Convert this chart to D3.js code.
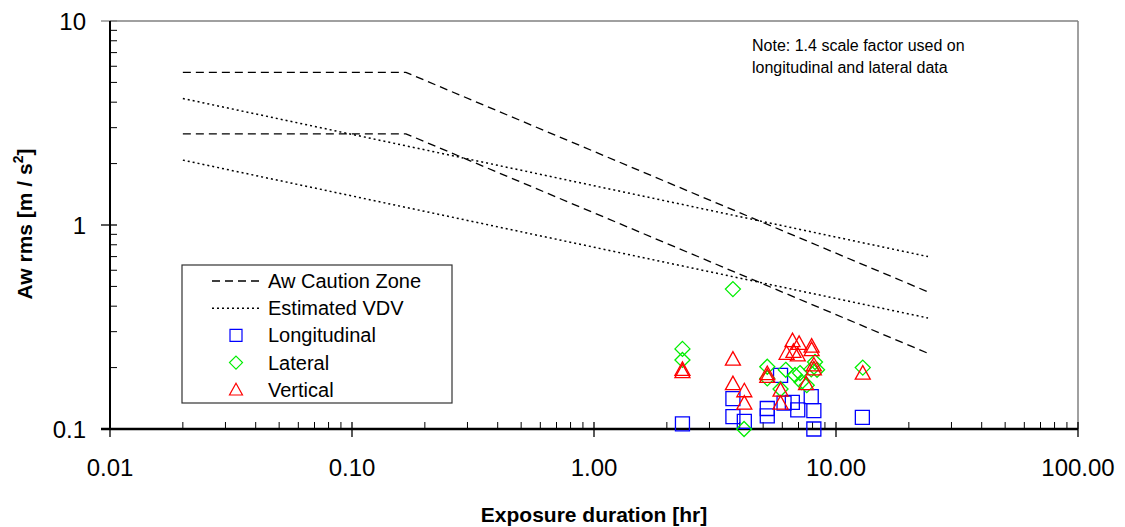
<!DOCTYPE html>
<html>
<head>
<meta charset="utf-8">
<script src="https://cdn.jsdelivr.net/npm/d3@7"></script>
<style>
  body { margin: 0; background: #fff; }
  text { font-family: "Liberation Sans", Arial, sans-serif; }
</style>
</head>
<body>
<script>
// exposure duration [hr], Aw rms [m/s2]
let cautionUpper = [[0.02, 5.6], [0.167, 5.6], [24, 0.47]];
let cautionLower = [[0.02, 2.8], [0.167, 2.8], [24, 0.235]];
let vdvUpper = [[0.02, 4.17], [24, 0.70]];
let vdvLower = [[0.02, 2.08], [24, 0.35]];

let longitudinal = [
  [2.32, 0.106], [3.75, 0.141], [3.75, 0.115], [4.18, 0.109], [5.2, 0.126],
  [5.2, 0.116], [5.9, 0.183], [6.1, 0.134], [6.6, 0.135], [6.95, 0.124],
  [7.9, 0.144], [8.1, 0.123], [8.1, 0.100], [12.85, 0.114]
];
let lateral = [
  [2.32, 0.247], [2.32, 0.218], [3.75, 0.485], [4.17, 0.100], [5.2, 0.202],
  [5.2, 0.177], [5.9, 0.157], [6.2, 0.195], [6.77, 0.184], [7.1, 0.188],
  [7.2, 0.170], [7.57, 0.164], [7.9, 0.196], [8.19, 0.213], [8.35, 0.195],
  [12.9, 0.200]
];
let vertical = [
  [2.32, 0.191], [2.32, 0.196], [3.75, 0.220], [3.75, 0.167], [4.18, 0.154],
  [4.18, 0.134], [5.2, 0.187], [5.2, 0.181], [5.9, 0.155], [5.9, 0.134],
  [6.25, 0.235], [6.61, 0.271], [6.67, 0.240], [6.95, 0.231], [7.04, 0.263],
  [7.52, 0.167], [7.93, 0.255], [7.93, 0.245], [8.1, 0.206], [8.1, 0.197],
  [12.9, 0.188]
];

let xTicks = [0.01, 0.1, 1, 10, 100];
let xTickLabels = ["0.01", "0.10", "1.00", "10.00", "100.00"];
let yTicks = [0.1, 1, 10];
let yTickLabels = ["0.1", "1", "10"];

let w = 1125;
let h = 527;
let mLeft = 110, mRight = 1078, mTop = 21, mBottom = 429;

let svg = d3.select("body").append("svg").attr("width", w).attr("height", h);

let xScale = d3.scaleLog().domain([0.01, 100]).range([mLeft, mRight]);
let yScale = d3.scaleLog().domain([0.1, 10]).range([mBottom, mTop]);

// frame top / right
svg.append("line").attr("x1", mLeft).attr("x2", mRight).attr("y1", mTop).attr("y2", mTop)
  .attr("stroke", "#808080").attr("stroke-width", 1.5);
svg.append("line").attr("x1", mRight).attr("x2", mRight).attr("y1", mTop).attr("y2", mBottom)
  .attr("stroke", "#808080").attr("stroke-width", 1.5);

// minor tick values
function minors(domain) {
  let out = [];
  for (let d = domain[0]; d < domain[1] * 0.999; d *= 10) {
    for (let k = 2; k <= 9; k++) out.push(d * k);
  }
  return out;
}

// x ticks
let gx = svg.append("g");
gx.selectAll(".minor").data(minors([0.01, 100])).enter().append("line")
  .attr("x1", (d) => xScale(d)).attr("x2", (d) => xScale(d))
  .attr("y1", mBottom - 7).attr("y2", mBottom)
  .attr("stroke", "#000").attr("stroke-width", 1);
gx.selectAll(".major").data(xTicks).enter().append("line")
  .attr("x1", (d) => xScale(d)).attr("x2", (d) => xScale(d))
  .attr("y1", mBottom - 7).attr("y2", mBottom + 8)
  .attr("stroke", "#000").attr("stroke-width", 1.3);
gx.selectAll("text").data(xTicks).enter().append("text")
  .attr("x", (d) => xScale(d)).attr("y", mBottom + 47)
  .attr("text-anchor", "middle").style("font-size", "24px")
  .text((d, i) => xTickLabels[i]);

// y ticks
let gy = svg.append("g");
gy.selectAll(".minor").data(minors([0.1, 10])).enter().append("line")
  .attr("x1", mLeft).attr("x2", mLeft + 7)
  .attr("y1", (d) => yScale(d)).attr("y2", (d) => yScale(d))
  .attr("stroke", "#000").attr("stroke-width", 1);
gy.selectAll(".major").data(yTicks).enter().append("line")
  .attr("x1", mLeft - 9).attr("x2", mLeft + 7)
  .attr("y1", (d) => yScale(d)).attr("y2", (d) => yScale(d))
  .attr("stroke", (d) => (d === 10 ? "#808080" : "#000")).attr("stroke-width", 1.3);
gy.selectAll("text").data(yTicks).enter().append("text")
  .attr("x", mLeft - 24).attr("y", (d) => yScale(d) + 9)
  .attr("text-anchor", "end").style("font-size", "24px")
  .text((d, i) => yTickLabels[i]);

// axis lines
svg.append("line").attr("x1", mLeft).attr("x2", mLeft).attr("y1", mTop).attr("y2", mBottom)
  .attr("stroke", "#000").attr("stroke-width", 2);
svg.append("line").attr("x1", mLeft - 9).attr("x2", mRight).attr("y1", mBottom).attr("y2", mBottom)
  .attr("stroke", "#000").attr("stroke-width", 2.5);

// guidance lines
let line = d3.line().x((d) => xScale(d[0])).y((d) => yScale(d[1]));
[cautionUpper, cautionLower].forEach((s) => {
  svg.append("path").attr("d", line(s)).attr("fill", "none")
    .attr("stroke", "#000").attr("stroke-width", 1.3).attr("stroke-dasharray", "8,5");
});
[vdvUpper, vdvLower].forEach((s) => {
  svg.append("path").attr("d", line(s)).attr("fill", "none")
    .attr("stroke", "#000").attr("stroke-width", 1.5).attr("stroke-dasharray", "2,3");
});

// markers
function squarePath(s) {
  return "M" + -s + "," + -s + "H" + s + "V" + s + "H" + -s + "Z";
}
function diamondPath(s) {
  return "M0," + -s + "L" + s + ",0L0," + s + "L" + -s + ",0Z";
}
function trianglePath(s) {
  return "M0," + -s + "L" + s + "," + (s * 0.8) + "L" + -s + "," + (s * 0.8) + "Z";
}

function drawSeries(data, pathStr, color) {
  svg.append("g").selectAll("path").data(data).enter().append("path")
    .attr("d", pathStr)
    .attr("transform", (d) => "translate(" + xScale(d[0]) + "," + yScale(d[1]) + ")")
    .attr("fill", "none").attr("stroke", color).attr("stroke-width", 1.3);
}
drawSeries(longitudinal, squarePath(7), "#0000ff");
drawSeries(lateral, diamondPath(7.5), "#00ee00");
drawSeries(vertical, trianglePath(7.5), "#ff0000");

// legend
let lg = svg.append("g");
lg.append("rect").attr("x", 182).attr("y", 265).attr("width", 270).attr("height", 138)
  .attr("fill", "#fff").attr("stroke", "#333").attr("stroke-width", 1.2);
let legendItems = [
  { name: "Aw Caution Zone", kind: "dash" },
  { name: "Estimated VDV", kind: "dot" },
  { name: "Longitudinal", kind: "square", color: "#0000ff" },
  { name: "Lateral", kind: "diamond", color: "#00ee00" },
  { name: "Vertical", kind: "triangle", color: "#ff0000" }
];
legendItems.forEach((it, i) => {
  let y = 281 + i * 27.2;
  if (it.kind === "dash" || it.kind === "dot") {
    lg.append("line").attr("x1", 212).attr("x2", 262).attr("y1", y).attr("y2", y)
      .attr("stroke", "#000").attr("stroke-width", 1.5)
      .attr("stroke-dasharray", it.kind === "dash" ? "8,5" : "2,3");
  } else {
    let p = it.kind === "square" ? squarePath(6) : it.kind === "diamond" ? diamondPath(6.5) : trianglePath(6.5);
    lg.append("path").attr("d", p).attr("transform", "translate(236," + y + ")")
      .attr("fill", "none").attr("stroke", it.color).attr("stroke-width", 1.2);
  }
  lg.append("text").attr("x", 268).attr("y", y + 7).style("font-size", "20px").text(it.name);
});

// note
svg.append("text").attr("x", 752).attr("y", 51).style("font-size", "16px")
  .text("Note: 1.4 scale factor used on");
svg.append("text").attr("x", 752).attr("y", 73).style("font-size", "16px")
  .text("longitudinal and lateral data");

// axis titles
svg.append("text").attr("x", 594).attr("y", 522).attr("text-anchor", "middle")
  .style("font-size", "21px").style("font-weight", "bold")
  .text("Exposure duration [hr]");
let yt = svg.append("text").attr("transform", "translate(32,224) rotate(-90)")
  .attr("text-anchor", "middle").style("font-size", "21px").style("font-weight", "bold");
yt.append("tspan").text("Aw rms [m / s");
yt.append("tspan").attr("dy", -9).style("font-size", "14px").text("2");
yt.append("tspan").attr("dy", 9).text("]");
</script>
</body>
</html>
